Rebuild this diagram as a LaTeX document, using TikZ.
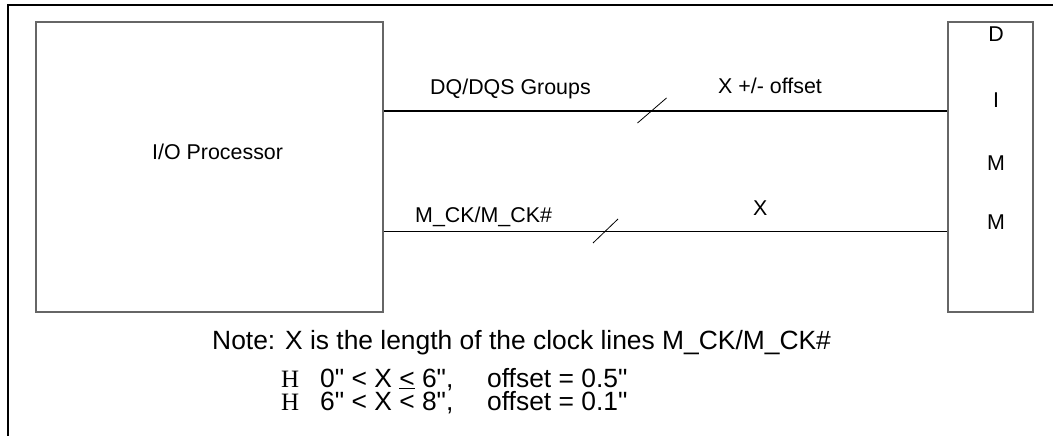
\documentclass[tikz,border=0pt]{standalone}
\usepackage{fontspec}
\newfontfamily\labelfont{Liberation Sans}
\newfontfamily\bulletfont{Liberation Serif}
\tikzstyle{block} = [draw=black!60, line width=1.2pt, inner sep=0pt]
\tikzstyle{wire} = [draw, line width=1.1pt]
\tikzstyle{tick} = [draw, line width=0.8pt]
\tikzstyle{lbl} = [font=\labelfont\fontsize{21.4}{25}\selectfont, inner sep=0pt, anchor=base west]
\tikzstyle{note} = [font=\labelfont\fontsize{26.4}{30}\selectfont, inner sep=0pt, anchor=base west]

\begin{document}
\begin{tikzpicture}[x=1pt,y=-1pt]
\useasboundingbox (0,0) rectangle (1053,436);
\draw [line width=2.6pt] (8,436) -- (8,5) -- (1053,5);

% boxes
\node [block, minimum width=347pt, minimum height=290pt] (io) at (209.5,167) {};
\node [block, minimum width=85pt, minimum height=290pt] (dimm) at (990.5,167) {};
\node [lbl] (iolbl) at (152,159) {I/O Processor};
\node [lbl, anchor=base] (d1) at (996,42) {D};
\node [lbl, anchor=base] (d2) at (996,107) {I};
\node [lbl, anchor=base] (d3) at (996,170) {M};
\node [lbl, anchor=base] (d4) at (996,229) {M};

% buses
\coordinate (dqy) at (0,111);
\coordinate (cky) at (0,231.5);
\draw [wire] (io.east |- dqy) -- (dimm.west |- dqy);
\draw [wire] (io.east |- cky) -- (dimm.west |- cky);
\coordinate (dqtick) at (652,110.5);
\coordinate (cktick) at (605.5,231);
\draw [tick] ([shift={(-14.5,12.5)}]dqtick) -- ([shift={(14.5,-12.5)}]dqtick);
\draw [tick] ([shift={(-12.5,12)}]cktick) -- ([shift={(12.5,-12)}]cktick);
\node [lbl] (dqlbl) at (430,95) {DQ/DQS Groups};
\node [lbl] (dqlen) at (718,94) {X +/- offset};
\node [lbl] (cklbl) at (415,222) {M\_CK/M\_CK\#};
\node [lbl] (cklen) at (753,215) {X};

% note
\node [note] (note) at (212,349) {Note: X is the length of the clock lines M\_CK/M\_CK\#};
\node [note, font=\bulletfont\fontsize{25}{28}\selectfont] (b1) at (281,387) {H};
\node [note] (r1) at (320,387) {0" < X \underline{<} 6",};
\node [note] (o1) at (487,387) {offset = 0.5"};
\node [note, font=\bulletfont\fontsize{25}{28}\selectfont] (b2) at (281,410) {H};
\node [note] (r2) at (320,410) {6" < X < 8",};
\node [note] (o2) at (487,410) {offset = 0.1"};
\end{tikzpicture}
\end{document}
